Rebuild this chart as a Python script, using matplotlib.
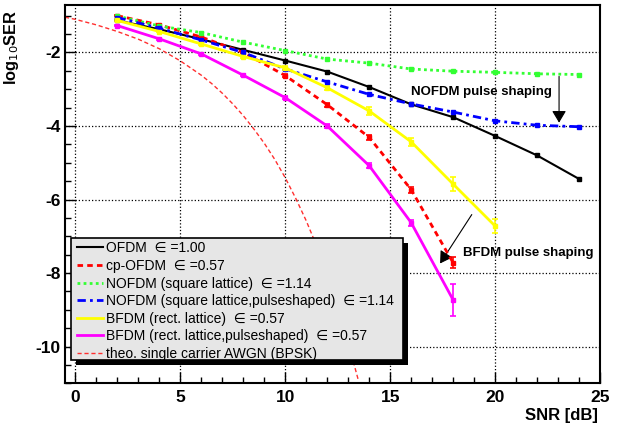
import matplotlib
matplotlib.use('Agg')
import matplotlib.pyplot as plt
from matplotlib.lines import Line2D
from matplotlib.patches import Rectangle
from matplotlib.ticker import MultipleLocator

plt.rcParams['font.family'] = ['Liberation Sans', 'DejaVu Sans']
plt.rcParams['axes.unicode_minus'] = False

# SNR points of the simulations
snr_full = [2, 4, 6, 8, 10, 12, 14, 16, 18, 20, 22, 24]
snr_18 = [2, 4, 6, 8, 10, 12, 14, 16, 18]
snr_20 = [2, 4, 6, 8, 10, 12, 14, 16, 18, 20]

# log10(SER)
ofdm = [-1.13, -1.37, -1.64, -1.93, -2.22, -2.52, -2.94, -3.41, -3.76, -4.27, -4.80, -5.44]
cp_ofdm = [-1.00, -1.25, -1.58, -2.00, -2.63, -3.42, -4.31, -5.73, -7.72]
cp_ofdm_err = [0.02, 0.03, 0.03, 0.04, 0.05, 0.05, 0.06, 0.08, 0.15]
nofdm = [-1.01, -1.28, -1.46, -1.72, -1.95, -2.18, -2.29, -2.45, -2.51, -2.54, -2.58, -2.60]
nofdm_ps = [-1.05, -1.34, -1.66, -2.00, -2.45, -2.80, -3.14, -3.40, -3.62, -3.86, -3.98, -4.02]
bfdm = [-1.13, -1.43, -1.77, -2.11, -2.42, -2.96, -3.59, -4.43, -5.58, -6.72]
bfdm_err = [0.02, 0.02, 0.03, 0.04, 0.05, 0.06, 0.10, 0.11, 0.18, 0.18]
bfdm_ps = [-1.27, -1.63, -2.04, -2.62, -3.23, -4.00, -5.08, -6.63, -8.73]
bfdm_ps_err = [0.02, 0.02, 0.03, 0.03, 0.04, 0.05, 0.06, 0.08, 0.44]

# theoretical BPSK curve
theo_snr = [-0.5, 0, 1, 2, 3, 4, 5, 6, 6.5, 7, 7.5, 8, 8.5, 9, 9.5, 10,
            10.5, 11, 11.5, 12, 12.5, 13, 13.5]
theo_ser = [-1.04, -1.10, -1.25, -1.43, -1.64, -1.90, -2.23, -2.62, -2.85, -3.11,
            -3.40, -3.72, -4.08, -4.47, -4.91, -5.41, -5.97, -6.58, -7.27, -8.05,
            -8.91, -9.90, -10.95]

labels = ['OFDM  \u2208 =1.00',
          'cp-OFDM  \u2208 =0.57',
          'NOFDM (square lattice)  \u2208 =1.14',
          'NOFDM (square lattice,pulseshaped)  \u2208 =1.14',
          'BFDM (rect. lattice)  \u2208 =0.57',
          'BFDM (rect. lattice,pulseshaped)  \u2208 =0.57',
          'theo. single carrier AWGN (BPSK)']

fig = plt.figure(figsize=(6.17, 4.25), dpi=100)
ax = fig.add_axes([0.1053, 0.0981, 0.8671, 0.8909])

styles = [
    dict(color='black', lw=1.5, ls='-'),
    dict(color='#ff0000', lw=2, ls=(0, (2, 1.5))),
    dict(color='#33ff33', lw=2, ls=(0, (1, 1.2))),
    dict(color='#0000ff', lw=2, ls=(0, (3, 1.5, 1, 1.5))),
    dict(color='#ffff00', lw=2, ls='-'),
    dict(color='#ff00ff', lw=2, ls='-'),
    dict(color='#ff3030', lw=1, ls=(0, (3, 2))),
]

ax.plot(theo_snr, theo_ser, zorder=2, **styles[6])

eb = dict(capsize=2.5, capthick=1.2, elinewidth=1.2, marker='s', ms=3, zorder=3)
ax.errorbar(snr_full, ofdm, **styles[0], **eb)
ax.errorbar(snr_18, cp_ofdm, yerr=cp_ofdm_err, **styles[1], **eb)
ax.errorbar(snr_full, nofdm, **styles[2], **eb)
ax.errorbar(snr_full, nofdm_ps, **styles[3], **eb)
ax.errorbar(snr_20, bfdm, yerr=bfdm_err, **styles[4], **eb)
ax.errorbar(snr_18, bfdm_ps, yerr=bfdm_ps_err, **styles[5], **eb)

ax.set_xlim(-0.5, 25)
ax.set_ylim(-11, -0.7)
ax.xaxis.set_major_locator(MultipleLocator(5))
ax.xaxis.set_minor_locator(MultipleLocator(1))
ax.yaxis.set_major_locator(MultipleLocator(2))
ax.yaxis.set_minor_locator(MultipleLocator(0.5))
ax.tick_params(which='both', direction='in', top=False, right=False,
               labelsize=12.5)
ax.tick_params(which='major', length=8, width=1)
ax.tick_params(which='minor', length=4, width=1)
ax.tick_params(axis='y', pad=3)
ax.tick_params(axis='x', pad=5)
for lab in ax.get_xticklabels() + ax.get_yticklabels():
    lab.set_fontweight('bold')
ax.grid(True, which='major', color='black', ls=':', lw=0.9)
for sp in ax.spines.values():
    sp.set_linewidth(1.5)

ax.set_xlabel('SNR [dB]', fontsize=12, fontweight='bold', ha='right',
              va='baseline')
ax.xaxis.set_label_coords(0.996, -0.097)
ax.set_ylabel('log$_{10}$SER', fontsize=11.8, fontweight='bold', ha='right')
ax.yaxis.set_label_coords(-0.083, 0.985)

# legend box with a black ROOT-like shadow
box_x, box_y, box_w, box_h = 0.0112, 0.0615, 0.6206, 0.3231
ax.add_patch(Rectangle((box_x + 0.0095, box_y - 0.013), box_w, box_h,
                       transform=ax.transAxes, facecolor='black',
                       edgecolor='none', zorder=5))
ax.add_patch(Rectangle((box_x, box_y), box_w, box_h, transform=ax.transAxes,
                       facecolor='#e6e6e6', edgecolor='black', lw=1.2,
                       zorder=5.1))
handles = [Line2D([], [], **s) for s in styles]
leg = ax.legend(handles, labels, loc='center left',
                bbox_to_anchor=(box_x + 0.012, box_y + box_h / 2 - 0.006),
                fontsize=10, frameon=False, handlelength=1.87,
                borderaxespad=0, labelspacing=0.26, borderpad=0,
                handletextpad=0.2)
leg.set_zorder(6)

arrow = dict(arrowstyle='-|>,head_length=0.72,head_width=0.43',
             color='black', lw=0.8, mutation_scale=10, shrinkA=0, shrinkB=0)
ax.annotate('', xy=(23.05, -3.91), xytext=(23.05, -2.65), arrowprops=arrow)
ax.text(16.0, -3.08, 'NOFDM pulse shaping', fontsize=9.5, fontweight='bold',
        va='center', ha='left')
ax.annotate('', xy=(17.38, -7.74), xytext=(18.89, -6.41), arrowprops=arrow)
ax.text(18.48, -7.45, 'BFDM pulse shaping', fontsize=9.5, fontweight='bold',
        va='center', ha='left')

fig.savefig('out.png', dpi=100)
